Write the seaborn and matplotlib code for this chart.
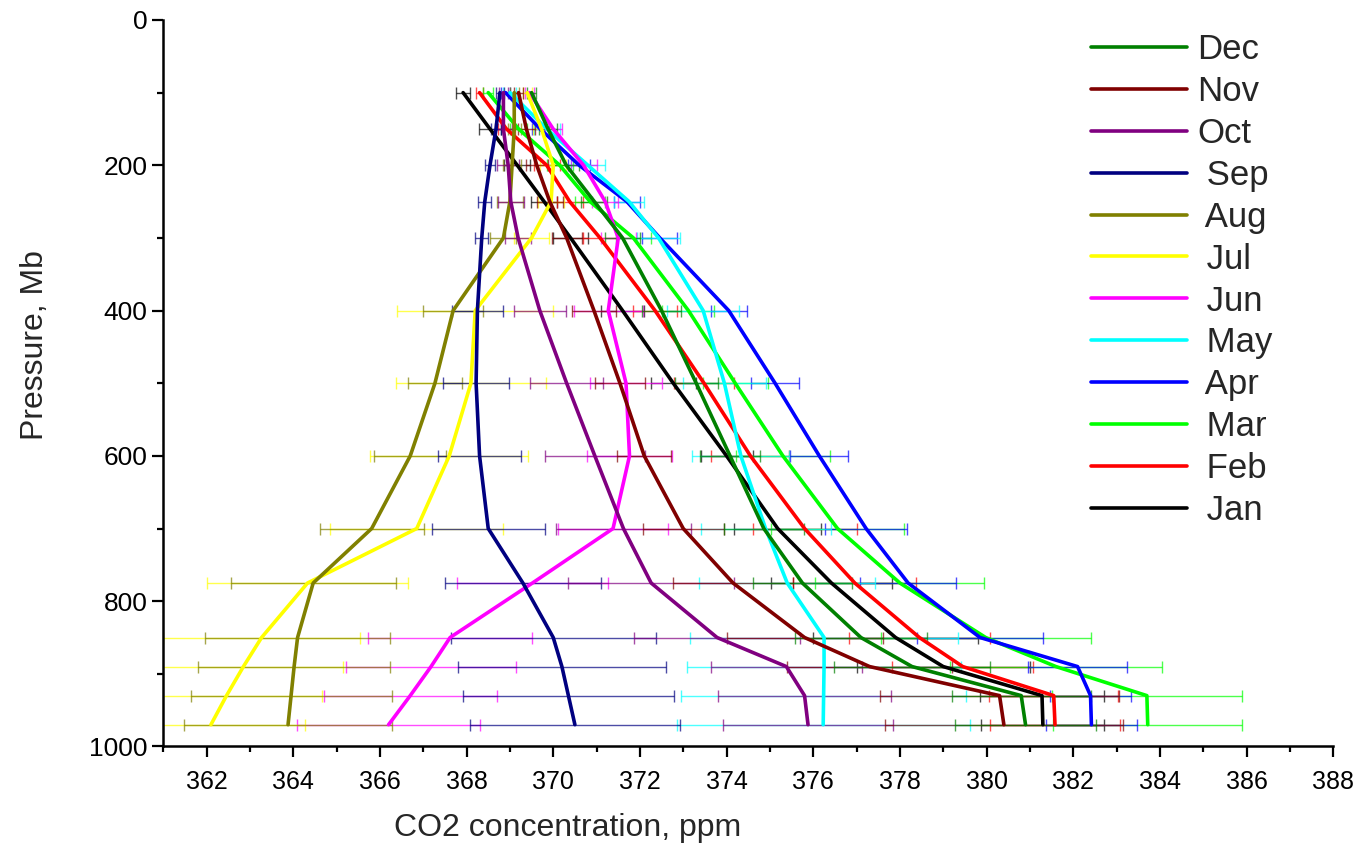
import pandas as pd
import matplotlib.pyplot as plt
import seaborn as sns
from matplotlib.ticker import MultipleLocator

# Pressure levels (Mb)
pressure = [100, 150, 200, 250, 300, 400, 500, 600, 700, 775, 850, 890, 930, 970]

# Monthly CO2 profiles (ppm) and error bar half-widths
jan_co2 = [367.92, 368.54, 369.17, 369.79, 370.40, 371.60, 372.77, 374.00, 375.18, 376.42, 377.90, 379.00, 381.28, 381.30]
jan_err = [0.17, 0.25, 0.30, 0.30, 0.40, 0.50, 0.52, 0.60, 1.00, 1.40, 1.90, 2.00, 1.43, 1.42]
feb_co2 = [368.30, 368.92, 369.85, 370.38, 371.08, 372.35, 373.48, 374.55, 375.80, 376.96, 378.45, 379.45, 381.55, 381.58]
feb_err = [0.08, 0.20, 0.30, 0.30, 0.40, 0.50, 0.70, 0.90, 1.20, 1.42, 1.63, 1.63, 1.49, 1.50]
mar_co2 = [368.50, 369.20, 370.15, 370.85, 371.85, 373.12, 374.20, 375.30, 376.56, 378.00, 379.98, 381.60, 383.70, 383.72]
mar_err = [0.12, 0.20, 0.30, 0.35, 0.40, 0.60, 0.75, 1.08, 1.54, 1.95, 2.42, 2.45, 2.20, 2.18]
apr_co2 = [368.90, 369.70, 370.60, 371.70, 372.46, 374.05, 375.12, 376.14, 377.22, 378.19, 379.85, 382.10, 382.40, 382.42]
apr_err = [0.10, 0.20, 0.25, 0.30, 0.40, 0.42, 0.55, 0.67, 0.95, 1.10, 1.45, 1.15, 0.94, 1.05]
may_co2 = [369.00, 369.85, 370.80, 371.75, 372.43, 373.46, 373.95, 374.33, 374.90, 375.40, 376.25, 376.25, 376.24, 376.23]
may_err = [0.15, 0.30, 0.40, 0.35, 0.50, 0.83, 0.95, 1.12, 1.50, 2.03, 3.10, 3.17, 3.28, 3.38]
jun_co2 = [369.45, 370.00, 370.70, 371.20, 371.50, 371.27, 371.68, 371.76, 371.38, 369.52, 367.62, 367.18, 366.70, 366.20]
jun_err = [0.10, 0.20, 0.30, 0.30, 0.40, 0.80, 0.82, 0.98, 1.28, 1.75, 1.90, 1.96, 2.00, 2.12]
jul_co2 = [369.40, 369.73, 370.00, 369.95, 369.50, 368.20, 368.10, 367.60, 366.85, 364.33, 363.27, 362.85, 362.46, 362.10]
jul_err = [0.10, 0.20, 0.30, 0.30, 0.40, 1.80, 1.73, 1.82, 2.00, 2.32, 2.28, 2.30, 2.20, 2.17]
aug_co2 = [369.10, 369.10, 369.05, 369.00, 368.85, 367.69, 367.27, 366.70, 365.81, 364.46, 364.10, 364.02, 363.95, 363.88]
aug_err = [0.10, 0.15, 0.20, 0.30, 0.30, 0.70, 0.62, 0.83, 1.20, 1.90, 2.13, 2.21, 2.32, 2.40]
sep_co2 = [368.77, 368.68, 368.54, 368.42, 368.35, 368.25, 368.22, 368.30, 368.50, 369.30, 370.00, 370.20, 370.35, 370.50]
sep_err = [0.10, 0.12, 0.12, 0.15, 0.15, 0.58, 0.76, 0.96, 1.30, 1.80, 2.37, 2.40, 2.43, 2.43]
oct_co2 = [368.85, 368.85, 368.96, 369.02, 369.19, 369.69, 370.31, 370.96, 371.62, 372.26, 373.78, 375.38, 375.80, 375.88]
oct_err = [0.10, 0.20, 0.25, 0.30, 0.30, 0.60, 0.85, 1.15, 1.55, 1.92, 1.92, 1.75, 2.00, 1.97]
nov_co2 = [369.20, 369.38, 369.62, 369.92, 370.31, 370.94, 371.54, 372.10, 373.00, 374.15, 375.80, 377.30, 380.30, 380.40]
nov_err = [0.10, 0.20, 0.25, 0.30, 0.35, 0.50, 0.58, 0.62, 0.93, 1.38, 1.80, 1.90, 2.75, 2.75]
dec_co2 = [369.50, 369.88, 370.30, 370.95, 371.60, 372.50, 373.30, 374.08, 374.86, 375.75, 377.10, 378.28, 380.80, 380.90]
dec_err = [0.10, 0.20, 0.30, 0.30, 0.40, 0.44, 0.50, 0.70, 0.92, 1.15, 1.53, 1.80, 1.60, 1.63]

months = ['Jan', 'Feb', 'Mar', 'Apr', 'May', 'Jun', 'Jul', 'Aug', 'Sep', 'Oct', 'Nov', 'Dec']
co2 = [jan_co2, feb_co2, mar_co2, apr_co2, may_co2, jun_co2, jul_co2, aug_co2, sep_co2, oct_co2, nov_co2, dec_co2]
errs = [jan_err, feb_err, mar_err, apr_err, may_err, jun_err, jul_err, aug_err, sep_err, oct_err, nov_err, dec_err]
colors = ['#000000', '#ff0000', '#00ff00', '#0000ff', '#00ffff', '#ff00ff',
          '#ffff00', '#808000', '#000080', '#800080', '#800000', '#008000']
palette = dict(zip(months, colors))

rows = []
for m, vals, ee in zip(months, co2, errs):
    for p, v, e in zip(pressure, vals, ee):
        rows.append({'month': m, 'pressure': p, 'co2': v, 'err': e})
df = pd.DataFrame(rows)

sns.set_style('ticks')
plt.rcParams['font.family'] = ['Liberation Sans', 'DejaVu Sans']

fig = plt.figure(figsize=(13.65, 8.43), dpi=100)
ax = fig.add_axes([0.1196, 0.1145, 0.8571, 0.8618])

# error bars under the lines
for m in months:
    d = df[df['month'] == m]
    ax.errorbar(d['co2'], d['pressure'], xerr=d['err'], fmt='none',
                ecolor=palette[m], elinewidth=1.0, capsize=4.5, capthick=1.0,
                alpha=0.7, zorder=1)

sns.lineplot(data=df, x='co2', y='pressure', hue='month', hue_order=months,
             palette=palette, orient='y', estimator=None, linewidth=2.6,
             ax=ax, zorder=2)

ax.set_xlim(361, 388)
ax.set_ylim(1000, 0)
ax.xaxis.set_major_locator(MultipleLocator(2))
ax.xaxis.set_minor_locator(MultipleLocator(1))
ax.yaxis.set_major_locator(MultipleLocator(200))
ax.yaxis.set_minor_locator(MultipleLocator(100))
ax.set_xticks(range(362, 389, 2))
ax.tick_params(which='major', length=8, width=1.6, direction='out', colors='black')
ax.tick_params(which='minor', length=4.5, width=1.6, direction='out', colors='black')
ax.tick_params(axis='y', labelsize=19)
ax.tick_params(axis='x', labelsize=18, pad=9)
for s in ['top', 'right']:
    ax.spines[s].set_visible(False)
for s in ['left', 'bottom']:
    ax.spines[s].set_linewidth(1.8)
    ax.spines[s].set_color('black')

ax.set_xlabel('CO2 concentration, ppm', fontsize=23)
ax.set_ylabel('Pressure, Mb', fontsize=23)
ax.xaxis.set_label_coords(0.346, -0.092)
ax.yaxis.set_label_coords(-0.097, 0.553)

handles, labels = ax.get_legend_handles_labels()
order = list(reversed(range(len(labels))))
names = {'Dec': 'Dec', 'Nov': 'Nov', 'Oct': 'Oct'}
new_labels = [names.get(labels[i], ' ' + labels[i]) for i in order]
leg = ax.legend([handles[i] for i in order], new_labels, frameon=False,
                fontsize=25, loc='upper left', bbox_to_anchor=(1074 / 1365, 0.981),
                bbox_transform=fig.transFigure, borderpad=0, handlelength=2.75,
                handletextpad=0.3, labelspacing=0.255)
for h in leg.get_lines():
    h.set_linewidth(2.6)

fig.savefig('out.png', dpi=100)
